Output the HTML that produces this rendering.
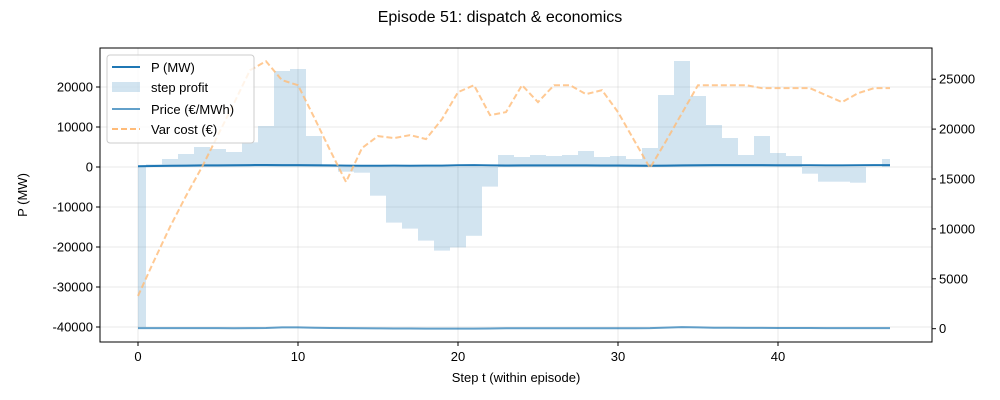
<!DOCTYPE html>
<html><head><meta charset="utf-8"><style>
body{margin:0;background:#fff;}
svg{display:block;font-family:"Liberation Sans","DejaVu Sans",sans-serif;}
</style></head><body>
<svg id="chart" width="1000" height="400" xmlns="http://www.w3.org/2000/svg">
<rect width="1000" height="400" fill="#fff"/>
<text x="500" y="22" text-anchor="middle" font-size="16">Episode 51: dispatch &amp; economics</text>
<g id="grid"></g>
<g id="bars"></g>
<g id="lines"></g>
<rect x="100" y="48" width="832" height="294" fill="none" stroke="#000" stroke-width="1"/>
<g id="axes"></g>
<text x="516" y="382" text-anchor="middle" font-size="13">Step t (within episode)</text>
<text transform="translate(27,195) rotate(-90)" text-anchor="middle" font-size="13">P (MW)</text>
<g>
<rect x="107" y="55" width="147" height="88" rx="3" fill="#fff" fill-opacity="0.8" stroke="#ccc"/>
<line x1="112" y1="67" x2="140" y2="67" stroke="#1f77b4" stroke-width="2"/>
<text x="151" y="72" font-size="13">P (MW)</text>
<rect x="112" y="82" width="28" height="10" fill="#1f77b4" fill-opacity="0.2"/>
<text x="151" y="92" font-size="13">step profit</text>
<line x1="112" y1="109" x2="140" y2="109" stroke="#1f77b4" stroke-opacity="0.7" stroke-width="2"/>
<text x="151" y="114" font-size="13">Price (€/MWh)</text>
<line x1="112" y1="129" x2="140" y2="129" stroke="#ffbb78" stroke-width="2" stroke-dasharray="6,3"/>
<text x="151" y="134" font-size="13">Var cost (€)</text>
</g>
</svg>
<script>
const steps = [0,1,2,3,4,5,6,7,8,9,10,11,12,13,14,15,16,17,18,19,20,21,22,23,24,25,26,27,28,29,30,31,32,33,34,35,36,37,38,39,40,41,42,43,44,45,46,47];
const stepProfit = [-40000,670,2000,3250,5000,4500,3750,6170,10250,24000,24500,7750,500,-1170,-1420,-7170,-13900,-15400,-18400,-20900,-20100,-17200,-4900,3000,2500,3000,2750,3000,4000,2500,2750,2000,4750,18000,26500,17750,10500,7250,3000,7750,3500,2750,-1670,-3670,-3670,-3920,0,2000];
const powerMW = [200,250,300,350,400,420,450,480,500,480,470,450,400,350,300,320,330,320,330,350,450,480,400,380,400,420,410,400,400,380,380,350,300,350,400,450,470,470,470,460,450,440,430,420,420,450,470,480];
const price = [60,60,60,60,60,60,50,60,70,130,130,100,70,60,40,30,20,15,10,5,5,10,20,40,50,50,50,50,50,45,45,50,60,110,160,130,100,90,80,80,75,70,65,60,60,60,60,60];
const varCost = [3280,6800,10200,13300,16200,19400,22600,25900,26800,24900,24400,21200,17900,14700,18100,19300,19100,19400,19000,21000,23700,24400,21400,21700,24400,22700,24400,24400,23500,23900,21700,18900,16100,18800,21600,24400,24400,24400,24400,24100,24100,24100,24100,23400,22700,23600,24100,24100];
const xTicks = [0,10,20,30,40];
const yTicksLeft = [-40000,-30000,-20000,-10000,0,10000,20000];
const yTicksRight = [0,5000,10000,15000,20000,25000];

const NS="http://www.w3.org/2000/svg";
const X = t => 138 + t*16;
const YL = v => 167 - v*0.004;
const YR = v => 328.7 - v*0.00998;
function mk(tag, attrs, parent){const e=document.createElementNS(NS,tag);for(const k in attrs)e.setAttribute(k,attrs[k]);parent.appendChild(e);return e;}
const grid=document.getElementById('grid'), bars=document.getElementById('bars'), lines=document.getElementById('lines'), axes=document.getElementById('axes');

xTicks.forEach(t=>{
  const g=mk('line',{x1:X(t),x2:X(t),y1:48,y2:342,stroke:'#b0b0b0','stroke-opacity':0.35,'stroke-width':0.8},grid);
  
  
  const tk=mk('line',{x1:X(t),x2:X(t),y1:342,y2:346,stroke:'#000'},axes);
  
  
  const tx=mk('text',{x:X(t),y:361,'text-anchor':'middle','font-size':13},axes);
  tx.textContent=t;
  
  
});
yTicksLeft.forEach(v=>{
  const g=mk('line',{x1:100,x2:932,y1:YL(v),y2:YL(v),stroke:'#b0b0b0','stroke-opacity':0.35,'stroke-width':0.8},grid);
  
  
  const tk=mk('line',{x1:96,x2:100,y1:YL(v),y2:YL(v),stroke:'#000'},axes);
  
  
  const tx=mk('text',{x:93,y:YL(v)+4.5,'text-anchor':'end','font-size':13},axes);
  tx.textContent=v;
  
  
});
yTicksRight.forEach(v=>{
  const tk=mk('line',{x1:932,x2:936,y1:YR(v),y2:YR(v),stroke:'#000'},axes);
  
  
  const tx=mk('text',{x:939,y:YR(v)+4.5,'font-size':13},axes);
  tx.textContent=v;
  
  
});

steps.forEach((t,i)=>{
  const v=stepProfit[i];
  const x0=X(Math.max(steps[0],t-0.5)), x1=X(Math.min(steps[steps.length-1],t+0.5));
  const y0=Math.min(YL(0),YL(v)), h=Math.abs(YL(v)-YL(0));
  const r=mk('rect',{x:x0,y:y0,width:x1-x0,height:h,fill:'#1f77b4','fill-opacity':0.2},bars);
  
  
});
function poly(vals, yf, attrs, name){
  const p=mk('polyline',Object.assign({points:steps.map((t,i)=>X(t)+','+yf(vals[i])).join(' '),fill:'none'},attrs),lines);
  
  
}
poly(powerMW, YL, {stroke:'#1f77b4','stroke-width':2}, 'power-line');
poly(price, YR, {stroke:'#1f77b4','stroke-opacity':0.7,'stroke-width':2}, 'price-line');
poly(varCost, YR, {stroke:'#ffbb78','stroke-opacity':0.8,'stroke-width':2,'stroke-dasharray':'6,3'}, 'var-cost-line');
</script>
</body></html>
